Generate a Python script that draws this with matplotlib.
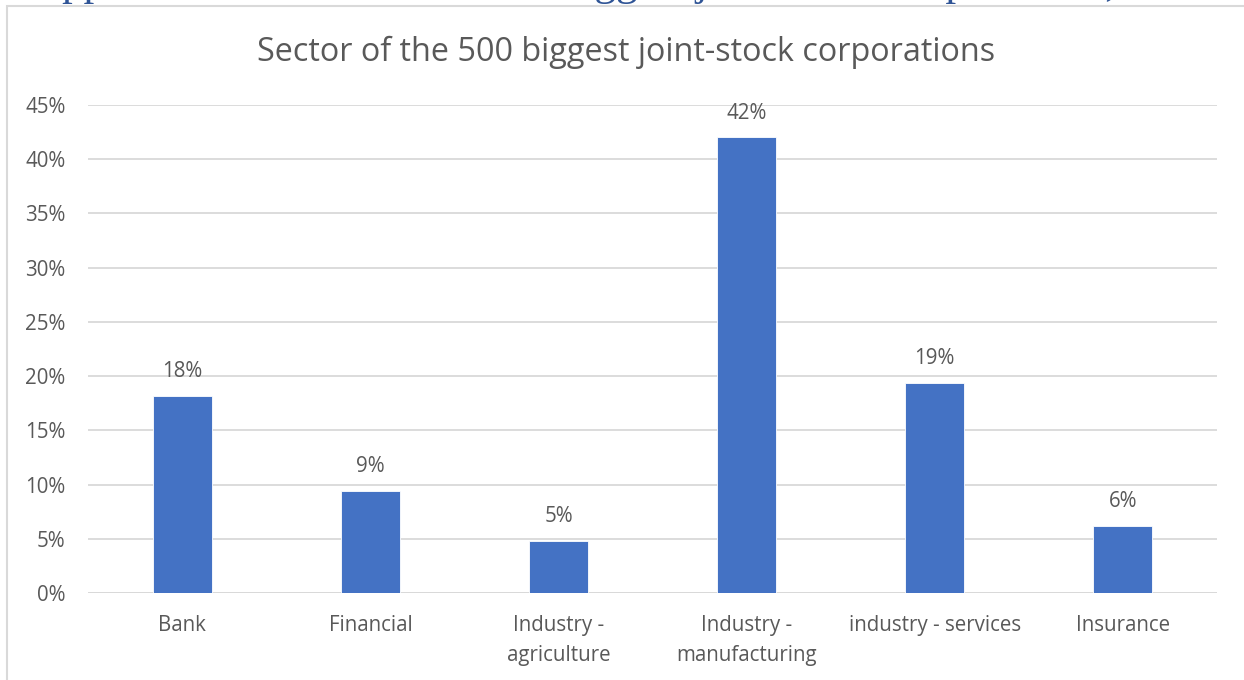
import matplotlib
matplotlib.use("Agg")
import matplotlib.pyplot as plt
from matplotlib.patches import Rectangle
from matplotlib.ticker import PercentFormatter, MultipleLocator

# Share of the 500 biggest joint-stock corporations by sector
categories = ["Bank", "Financial", "Industry -\nagriculture",
              "Industry -\nmanufacturing", "industry - services", "Insurance"]
shares = [18.2, 9.4, 4.8, 42.0, 19.4, 6.2]
value_labels = ["18%", "9%", "5%", "42%", "19%", "6%"]

title = "Sector of the 500 biggest joint-stock corporations"
heading = "Appendix 1: Sector of the 500 biggest joint-stock corporations, 2019"

BAR = "#4472C4"
TEXT = "#595959"
GRID = "#D9D9D9"
FONT = "Open Sans"
LABEL_SIZE = 14.8

W, H = 1244, 680
fig = plt.figure(figsize=(W / 100, H / 100), dpi=100)
fig.patch.set_facecolor("white")

# Document heading running above the chart box (only its lower edge shows)
fig.text(31 / W, 1 + 4.5 / H, heading, ha="left", va="baseline",
         family="Liberation Serif", fontsize=31, color="#2F5496")

# Chart box outline
fig.patches.append(Rectangle((7 / W, -0.05), 1.1, 1 - 6 / H + 0.05,
                             transform=fig.transFigure, fill=False,
                             edgecolor=GRID, linewidth=1.5, zorder=0))

ax = fig.add_axes([88.3 / W, (H - 593.3) / H, (1216.7 - 88.3) / W, (593.3 - 104.7) / H])
ax.set_facecolor("white")

x = range(len(categories))
bars = ax.bar(x, shares, width=0.315, color=BAR, edgecolor="white",
              linewidth=0.6, zorder=3)

for rect, lab in zip(bars, value_labels):
    ax.annotate(lab, (rect.get_x() + rect.get_width() / 2, rect.get_height()),
                xytext=(0, 13.5), textcoords="offset points",
                ha="center", va="baseline", fontsize=LABEL_SIZE, color=TEXT,
                family=FONT)

ax.set_xlim(-0.5, len(categories) - 0.5)
ax.set_ylim(0, 45)
ax.yaxis.set_major_locator(MultipleLocator(5))
ax.yaxis.set_major_formatter(PercentFormatter(decimals=0))
ax.grid(axis="y", color=GRID, linewidth=1.3, zorder=0)
ax.set_axisbelow(True)

for s in ax.spines.values():
    s.set_visible(False)
ax.axhline(0, color=GRID, linewidth=1.3, zorder=2)

ax.tick_params(axis="both", length=0, colors=TEXT, labelsize=LABEL_SIZE)
ax.tick_params(axis="y", pad=16.5)
ax.tick_params(axis="x", pad=15.5)
ax.set_xticks(list(x))
ax.set_xticklabels(categories, family=FONT, linespacing=1.55, va="top")
for t in ax.get_yticklabels():
    t.set_family(FONT)

fig.text(626 / W, 1 - 52 / H, title, ha="center", va="center",
         fontsize=23.3, color=TEXT, family=FONT)

fig.savefig("out.png", dpi=100, facecolor="white")
